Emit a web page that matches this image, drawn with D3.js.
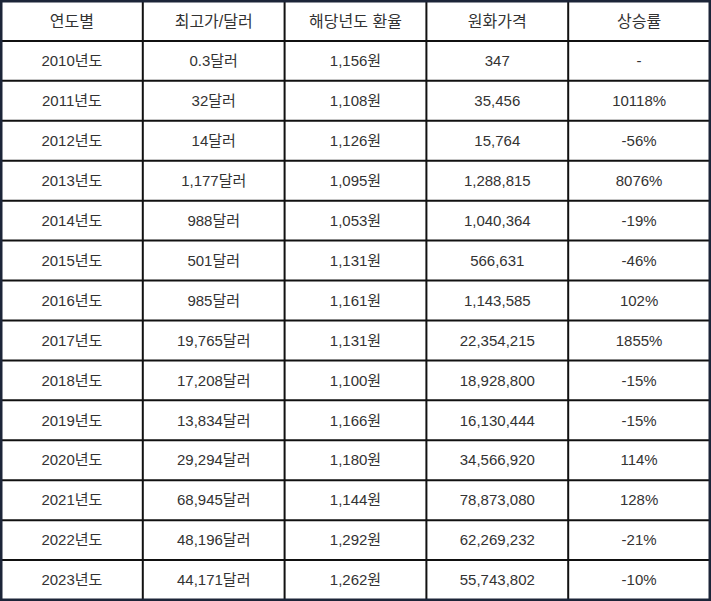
<!DOCTYPE html>
<html><head><meta charset="utf-8">
<script src="https://cdn.jsdelivr.net/npm/d3@7"></script>
<style>body{margin:0;background:#fff}</style>
</head><body>
<div id="content"></div>
<script>
var headers = ['연도별', '최고가/달러', '해당년도 환율', '원화가격', '상승률'];
var years = ['2010년도','2011년도','2012년도','2013년도','2014년도','2015년도','2016년도','2017년도','2018년도','2019년도','2020년도','2021년도','2022년도','2023년도'];
var highUsd = ['0.3달러','32달러','14달러','1,177달러','988달러','501달러','985달러','19,765달러','17,208달러','13,834달러','29,294달러','68,945달러','48,196달러','44,171달러'];
var rates = ['1,156원','1,108원','1,126원','1,095원','1,053원','1,131원','1,161원','1,131원','1,100원','1,166원','1,180원','1,144원','1,292원','1,262원'];
var krw = ['347','35,456','15,764','1,288,815','1,040,364','566,631','1,143,585','22,354,215','18,928,800','16,130,444','34,566,920','78,873,080','62,269,232','55,743,802'];
var growth = ['-','10118%','-56%','8076%','-19%','-46%','102%','1855%','-15%','-15%','114%','128%','-21%','-10%'];

var rows = [headers].concat(years.map((y, i) => [y, highUsd[i], rates[i], krw[i], growth[i]]));

var W = 711, H = 601;
var svg = d3.select('#content').append('svg').attr('width', W).attr('height', H);
var x = d3.scaleBand().domain(d3.range(5)).range([1, W - 1]);
var y = d3.scaleBand().domain(d3.range(rows.length)).range([1, H - 1]);

svg.append('rect').attr('width', W).attr('height', H).attr('fill', '#fff');

var g = svg.selectAll('g.row').data(rows).join('g').attr('class', 'row')
  .attr('transform', (d, i) => `translate(0,${y(i)})`);

g.selectAll('text').data((d, i) => d.map(v => ({v, head: i === 0}))).join('text')
  .attr('x', (d, j) => x(j) + x.bandwidth() / 2)
  .attr('y', y.bandwidth() / 2)
  .attr('dy', '0.35em')
  .attr('text-anchor', 'middle')
  .attr('font-family', 'Liberation Sans, Noto Sans CJK KR, sans-serif')
  .attr('font-size', d => d.head ? 16 : 15)
  .attr('fill', '#333')
  .text(d => d.v);

// grid lines
svg.selectAll('line.h').data(d3.range(1, rows.length)).join('line')
  .attr('x1', 0).attr('x2', W)
  .attr('y1', d => y(d)).attr('y2', d => y(d))
  .attr('stroke', '#111').attr('stroke-width', 2);
svg.selectAll('line.v').data(d3.range(1, 5)).join('line')
  .attr('y1', 0).attr('y2', H)
  .attr('x1', d => x(d)).attr('x2', d => x(d))
  .attr('stroke', '#111').attr('stroke-width', 2);

svg.append('rect').attr('x', 1).attr('y', 1).attr('width', W - 2).attr('height', H - 2)
  .attr('fill', 'none').attr('stroke', '#1c2538').attr('stroke-width', 3);
</script>
</body></html>
